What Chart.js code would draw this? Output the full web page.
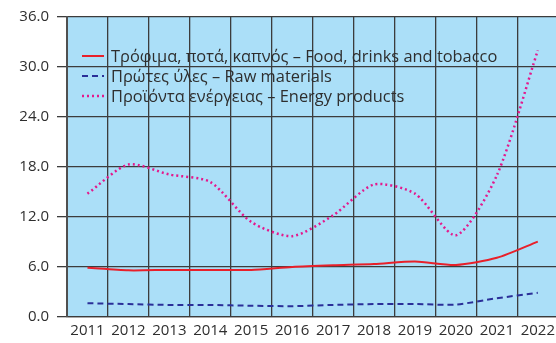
<!DOCTYPE html>
<html>
<head>
<meta charset="utf-8">
<script src="https://cdn.jsdelivr.net/npm/chart.js@4"></script>
<style>
  html, body { margin: 0; padding: 0; background: #fff; overflow: hidden; }
  canvas { display: block; }
</style>
</head>
<body>
<canvas id="priceChart" width="560" height="343"></canvas>
<script>
var years = ["2011","2012","2013","2014","2015","2016","2017","2018","2019","2020","2021","2022"];
var foodValues = [5.9, 5.6, 5.65, 5.65, 5.65, 6.0, 6.2, 6.35, 6.65, 6.25, 7.1, 9.05];
var rawValues = [1.65, 1.55, 1.45, 1.45, 1.35, 1.3, 1.45, 1.55, 1.55, 1.5, 2.25, 2.9];
var energyValues = [14.8, 18.3, 17.1, 16.2, 11.4, 9.7, 12.2, 15.9, 14.8, 9.8, 17.0, 32.0];
var yTicks = [0, 6, 12, 18, 24, 30, 36];

var labels = {
    food: "Τρόφιμα, ποτά, καπνός – Food, drinks and tobacco",
    raw: "Πρώτες ύλες – Raw materials",
    energy: "Προϊόντα ενέργειας – Energy products"
};

var gridColor = "#3c3c3c";
var textColor = "#2e2e2e";
var fontFamily = "'Open Sans', sans-serif";

// paints the plot background and the in-plot legend
var plotBackground = {
    id: "plotBackground",
    beforeDraw: function(chart){
        var a = chart.chartArea, ctx = chart.ctx;
        ctx.save();
        ctx.fillStyle = "#abdff8";
        ctx.fillRect(a.left, a.top, a.right - a.left, a.bottom - a.top);
        ctx.restore();
    }
};

var innerLegend = {
    id: "innerLegend",
    afterDatasetsDraw: function(chart){
        var a = chart.chartArea, ctx = chart.ctx;
        ctx.save();
        ctx.font = "16.4px " + fontFamily;
        ctx.textBaseline = "middle";
        chart.data.datasets.forEach(function(ds, i){
            var y = a.top + 39 + i * 20;
            var x = a.left + 15;
            ctx.beginPath();
            ctx.strokeStyle = ds.borderColor;
            ctx.lineWidth = ds.borderWidth;
            ctx.setLineDash(ds.borderDash || []);
            ctx.moveTo(x, y);
            ctx.lineTo(x + 22, y);
            ctx.stroke();
            ctx.setLineDash([]);
            ctx.fillStyle = textColor;
            ctx.fillText(ds.label, x + 29, y + 1);
        });
        ctx.restore();
    }
};

var ctx = document.getElementById("priceChart");
var chart = new Chart(ctx, {
    type: "line",
    data: {
        labels: years,
        datasets: [{
            label: labels.food,
            data: foodValues,
            borderColor: "#e8202a",
            borderWidth: 2,
            tension: 0.25,
            pointRadius: 0
        }, {
            label: labels.raw,
            data: rawValues,
            borderColor: "#2a2f98",
            borderWidth: 2,
            borderDash: [6, 4],
            tension: 0.25,
            pointRadius: 0
        }, {
            label: labels.energy,
            data: energyValues,
            borderColor: "#e4188c",
            borderWidth: 2.5,
            borderDash: [2, 3],
            tension: 0.25,
            pointRadius: 0
        }]
    },
    options: {
        responsive: false,
        animation: false,
        layout: { padding: { top: 8, right: 1, left: 0, bottom: 0 } },
        plugins: {
            legend: { display: false },
            tooltip: { enabled: false }
        },
        scales: {
            x: {
                offset: true,
                grid: {
                    offset: true,
                    color: gridColor,
                    lineWidth: 1.3,
                    drawTicks: false
                },
                border: { color: gridColor, width: 1.3 },
                ticks: {
                    color: textColor,
                    font: { family: fontFamily, size: 15 },
                    padding: 5,
                    maxRotation: 0,
                    autoSkip: false
                },
                afterFit: function(scale){ scale.height = 26; }
            },
            y: {
                min: 0,
                max: 36,
                afterBuildTicks: function(scale){
                    scale.ticks = yTicks.map(function(v){ return { value: v }; });
                },
                grid: {
                    color: gridColor,
                    lineWidth: 1.3,
                    tickLength: 10
                },
                border: { color: "#505050", width: 2 },
                ticks: {
                    color: textColor,
                    font: { family: fontFamily, size: 15 },
                    padding: 8,
                    callback: function(v){ return v.toFixed(1); }
                },
                afterFit: function(scale){ scale.width = 67; }
            }
        }
    },
    plugins: [plotBackground, innerLegend]
});
</script>
</body>
</html>
